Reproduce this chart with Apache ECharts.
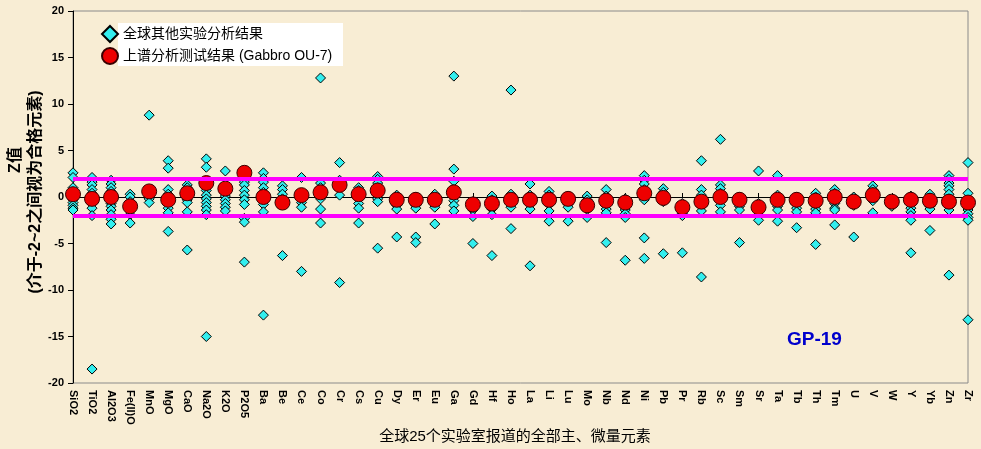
<!DOCTYPE html>
<html>
<head>
<meta charset="utf-8">
<script src="https://cdn.jsdelivr.net/npm/echarts@6/dist/echarts.min.js"></script>
<style>
html,body{margin:0;padding:0;background:#F8EDD4;}
#chart{width:981px;height:449px;}
</style>
</head>
<body>
<div id="chart"></div>
<script>
// Element categories
const categories = ['SiO2','TiO2','Al2O3','Fe(II)O','MnO','MgO','CaO','Na2O','K2O','P2O5',
  'Ba','Be','Ce','Co','Cr','Cs','Cu','Dy','Er','Eu',
  'Ga','Gd','Hf','Ho','La','Li','Lu','Mo','Nb','Nd',
  'Ni','Pb','Pr','Rb','Sc','Sm','Sr','Ta','Tb','Th',
  'Tm','U','V','W','Y','Yb','Zn','Zr'];

// Z-scores of this laboratory (Gabbro OU-7)
const labZ = [0.3,-0.2,0.0,-1.0,0.6,-0.3,0.4,1.5,0.9,2.6,
  0.0,-0.6,0.2,0.5,1.3,0.3,0.7,-0.3,-0.3,-0.3,
  0.5,-0.8,-0.7,-0.3,-0.3,-0.3,-0.2,-0.9,-0.4,-0.6,
  0.4,-0.1,-1.1,-0.5,0.0,-0.3,-1.1,-0.3,-0.3,-0.4,
  0.0,-0.5,0.2,-0.5,-0.3,-0.4,-0.5,-0.6];

// Z-scores of the other laboratories, one list per category
const otherZ = [
  [2.6,2.1,1.0,0.5,0.1,-0.3,-0.6,-0.9,-1.2,-1.4],
  [2.1,1.6,1.3,0.8,0.4,0.0,-0.4,-0.7,-1.2,-2.0,-18.5],
  [1.8,1.4,1.0,0.6,0.3,-0.3,-0.7,-1.0,-1.4,-1.9,-2.4,-2.9],
  [0.3,0.0,-0.5,-0.8,-1.9,-2.8],
  [8.8,0.3,0.0,-0.2,-0.6],
  [3.9,3.1,0.8,0.3,-0.3,-0.8,-1.2,-1.7,-3.7],
  [1.3,1.0,0.6,0.1,-0.3,-0.6,-1.6,-5.7],
  [4.1,3.2,1.2,0.7,0.2,-0.2,-0.6,-1.0,-1.4,-1.9,-15.0],
  [2.8,0.6,0.1,-0.3,-0.7,-1.1,-1.5],
  [1.6,1.3,0.7,0.2,-0.3,-0.8,-2.3,-2.7,-7.0],
  [2.6,2.0,1.6,1.0,0.5,-0.4,-0.8,-1.6,-12.7],
  [1.2,0.8,0.3,-0.2,-6.3],
  [2.1,0.2,-0.6,-1.1,-8.0],
  [12.8,1.5,1.0,0.3,-0.2,-1.3,-2.8],
  [3.7,1.8,1.5,0.9,0.2,-9.2],
  [1.0,0.7,0.3,-0.2,-0.7,-1.2,-2.8],
  [2.2,1.9,1.5,1.0,0.2,-0.2,-0.5,-5.5],
  [0.2,-0.2,-0.6,-0.9,-1.3,-4.3],
  [0.0,-0.5,-0.9,-1.2,-4.3,-4.9],
  [0.3,-0.1,-0.6,-1.1,-2.9],
  [13.0,3.0,1.7,0.8,0.2,-0.4,-0.9,-1.5],
  [-0.5,-1.0,-1.4,-2.1,-5.0],
  [0.1,-0.3,-0.9,-1.3,-1.9,-6.3],
  [11.5,0.3,-0.1,-0.7,-1.1,-3.4],
  [1.4,0.2,-0.2,-0.7,-1.3,-7.4],
  [0.6,0.2,-0.4,-0.8,-1.5,-2.6],
  [0.0,-0.4,-0.8,-1.1,-2.6],
  [0.1,-0.3,-0.6,-1.3,-2.2],
  [0.8,0.1,-0.8,-1.3,-1.7,-4.9],
  [-0.2,-1.0,-1.4,-1.8,-2.2,-6.8],
  [2.3,1.8,1.4,0.8,0.0,-0.3,-4.4,-6.6],
  [0.9,0.5,-0.2,-0.5,-6.1],
  [-0.7,-1.2,-1.5,-1.8,-2.0,-6.0],
  [3.9,0.8,0.2,-0.4,-1.0,-1.5,-8.6],
  [6.2,1.3,0.9,0.4,-0.4,-0.9,-1.6],
  [0.0,-0.6,-1.0,-1.4,-4.9],
  [2.8,-0.7,-1.3,-1.9,-2.5],
  [2.3,0.2,-0.6,-1.0,-1.4,-2.6],
  [0.0,-0.5,-0.8,-1.2,-1.6,-3.3],
  [0.4,0.0,-0.9,-1.3,-1.7,-5.1],
  [0.8,0.4,-0.3,-0.7,-1.2,-1.4,-3.0],
  [0.0,-0.4,-0.9,-4.3],
  [1.2,0.8,0.5,0.0,-0.4,-1.7],
  [-0.4,-0.8,-1.0],
  [0.1,-0.4,-0.8,-1.2,-1.6,-2.0,-2.5,-6.0],
  [0.3,-0.1,-0.7,-1.0,-1.3,-3.6],
  [2.3,1.9,1.5,1.2,0.8,0.3,-0.2,-0.8,-1.4,-8.4],
  [3.7,0.4,-0.4,-0.9,-1.4,-1.8,-2.2,-2.5,-13.2]
];

const limits = [2, -2];
const seriesNames = ['全球其他实验分析结果', '上谱分析测试结果 (Gabbro OU-7)'];

const otherPoints = [];
otherZ.forEach((vals, i) => vals.forEach(v => otherPoints.push([categories[i], v])));
const labPoints = labZ.map((v, i) => [categories[i], v]);

const FONT = "Arial, 'Liberation Sans', 'Noto Sans CJK SC', sans-serif";
const chart = echarts.init(document.getElementById('chart'));
chart.setOption({
  backgroundColor: '#F8EDD4',
  animation: false,
  textStyle: { fontFamily: FONT },
  grid: { left: 73, right: 13, top: 11, bottom: 66, show: true, borderColor: '#8a8a8a', borderWidth: 1, backgroundColor: 'transparent' },
  legend: {
    orient: 'vertical', left: 101, top: 25, padding: 0, itemGap: 4, itemWidth: 16, itemHeight: 16,
    data: [{ name: seriesNames[0], icon: 'diamond' }, { name: seriesNames[1], icon: 'circle' }],
    textStyle: { fontSize: 14, color: '#000', fontFamily: FONT }
  },
  xAxis: {
    type: 'category', data: categories, boundaryGap: false,
    axisLine: { lineStyle: { color: '#000', width: 1 } },
    axisTick: { inside: true, length: 4, interval: 0, lineStyle: { color: '#000' } },
    axisLabel: { interval: 0, rotate: -90, margin: 7, fontSize: 11, fontWeight: 'bold', color: '#000', fontFamily: FONT },
    splitLine: { show: false }
  },
  yAxis: {
    type: 'value', min: -20, max: 20, interval: 5,
    axisLine: { show: true, lineStyle: { color: '#000', width: 1 } },
    axisTick: { show: true, length: 5, lineStyle: { color: '#000' } },
    axisLabel: { fontSize: 11, fontWeight: 'bold', color: '#000', margin: 9, fontFamily: FONT },
    splitLine: { show: false }
  },
  graphic: [
    { type: 'rect', z: 1, shape: { x: 118, y: 23, width: 225, height: 43 }, style: { fill: '#ffffff' } },
    { type: 'text', x: 16, y: 160, rotation: Math.PI / 2,
      style: { text: 'Z值', font: "bold 16px " + FONT, fill: '#000', textAlign: 'center', textVerticalAlign: 'middle' } },
    { type: 'text', x: 36, y: 192, rotation: Math.PI / 2,
      style: { text: '(介于-2~2之间视为合格元素)', font: "bold 16px " + FONT, fill: '#000', textAlign: 'center', textVerticalAlign: 'middle' } },
    { type: 'text', x: 515, y: 437,
      style: { text: '全球25个实验室报道的全部主、微量元素', font: "15px " + FONT, fill: '#000', textAlign: 'center', textVerticalAlign: 'middle' } },
    { type: 'text', x: 787, y: 340,
      style: { text: 'GP-19', font: "bold 19px " + FONT, fill: '#0000CC', textAlign: 'left', textVerticalAlign: 'middle' } }
  ],
  series: [
    {
      name: 'limits', type: 'scatter', data: [], z: 1, silent: true,
      markLine: {
        symbol: 'none', silent: true, label: { show: false },
        lineStyle: { color: '#FF00FF', width: 4, type: 'solid' },
        data: limits.map(v => ({ yAxis: v }))
      }
    },
    {
      name: seriesNames[0], type: 'scatter', symbol: 'diamond', symbolSize: 10, z: 3,
      itemStyle: { color: '#33EEEE', borderColor: '#000', borderWidth: 1, opacity: 1 },
      data: otherPoints
    },
    {
      name: seriesNames[1], type: 'scatter', symbol: 'circle', symbolSize: 15, z: 4,
      itemStyle: { color: '#EE0000', borderColor: '#3a0000', borderWidth: 1, opacity: 1 },
      data: labPoints
    }
  ]
});
</script>
</body>
</html>
